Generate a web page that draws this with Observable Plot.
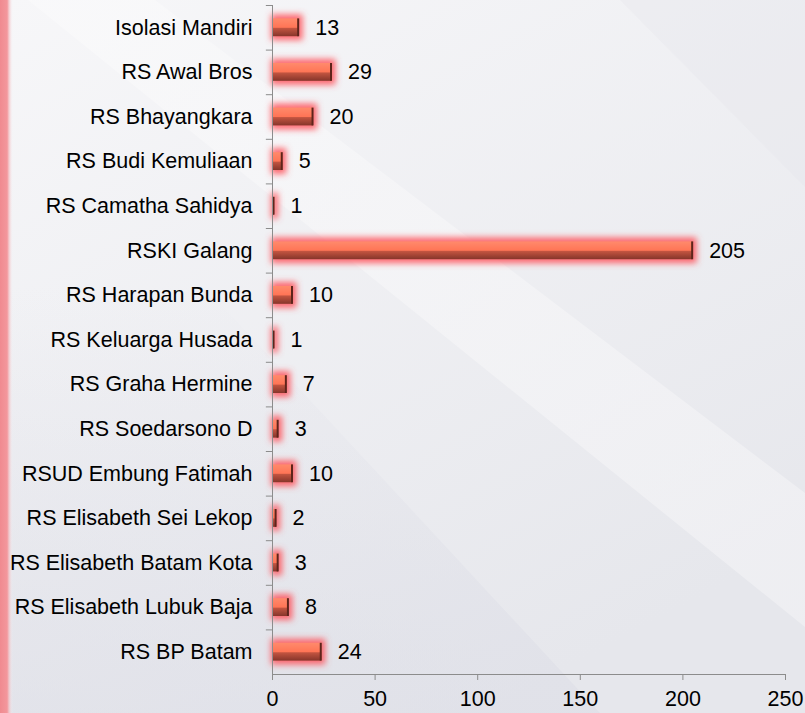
<!DOCTYPE html>
<html><head><meta charset="utf-8">
<script src="https://cdn.jsdelivr.net/npm/d3@7"></script>
<script src="https://cdn.jsdelivr.net/npm/@observablehq/plot@0.6"></script>
<style>
html,body{margin:0;padding:0;background:#ebebef;}
#wrap{position:relative;width:805px;height:713px;overflow:hidden;font-family:'Liberation Sans',Arial,sans-serif;}
#bg{position:absolute;left:0;top:0;}
#chart{position:absolute;left:0;top:0;}
#chart svg text{font-family:'Liberation Sans',Arial,sans-serif;}
</style></head>
<body>
<div id="wrap">
<svg id="bg" width="805" height="713" xmlns="http://www.w3.org/2000/svg">
  <defs>
    <linearGradient id="bgBase" x1="0" y1="0" x2="0.6" y2="1">
      <stop offset="0" stop-color="#f7f7f9"/>
      <stop offset="1" stop-color="#e6e7ec"/>
    </linearGradient>
    <linearGradient id="bandW" x1="0" y1="0" x2="1" y2="1">
      <stop offset="0" stop-color="#fafafb"/>
      <stop offset="1" stop-color="#f1f1f4"/>
    </linearGradient>
    <linearGradient id="bandD" x1="0" y1="0" x2="0" y2="1">
      <stop offset="0.4" stop-color="#dcdde6" stop-opacity="0"/>
      <stop offset="1" stop-color="#dcdde6" stop-opacity="0.55"/>
    </linearGradient>
    <linearGradient id="redStrip" x1="0" y1="0" x2="1" y2="0">
      <stop offset="0" stop-color="#f08a90"/>
      <stop offset="0.55" stop-color="#f3979c"/>
      <stop offset="1" stop-color="#f6f6f8" stop-opacity="0"/>
    </linearGradient>
  </defs>
  <rect width="805" height="713" fill="url(#bgBase)"/>
  <polygon points="28,0 155,0 805,493 805,627" fill="url(#bandW)" opacity="0.7"/>
  <polygon points="620,0 805,0 805,187" fill="#e6e6ea" opacity="0.35"/>
  <polygon points="-61,0 600,713 0,713" fill="url(#bandD)"/>
  <rect x="0" y="0" width="13" height="713" fill="url(#redStrip)"/>
</svg>
<div id="chart"></div>
</div>
<script>
const categories = [
  "Isolasi Mandiri",
  "RS Awal Bros",
  "RS Bhayangkara",
  "RS Budi Kemuliaan",
  "RS Camatha Sahidya",
  "RSKI Galang",
  "RS Harapan Bunda",
  "RS Keluarga Husada",
  "RS Graha Hermine",
  "RS Soedarsono D",
  "RSUD Embung Fatimah",
  "RS Elisabeth Sei Lekop",
  "RS Elisabeth Batam Kota",
  "RS Elisabeth Lubuk Baja",
  "RS BP Batam"
];
const values = [13, 29, 20, 5, 1, 205, 10, 1, 7, 3, 10, 2, 3, 8, 24];
const xTicks = [0, 50, 100, 150, 200, 250];

const data = categories.map((c, i) => ({cat: c, value: values[i]}));
const W = 805, H = 713, mt = 5, mb = 39, ml = 272, mr = 20;
const step = (H - mt - mb) / categories.length;
const axisGray = "#8c8c8c";
const fs = 21.5;

const plot = Plot.plot({
  width: W, height: H,
  marginTop: mt, marginBottom: mb, marginLeft: ml, marginRight: mr,
  style: {background: "transparent", fontFamily: "'Liberation Sans', Arial, sans-serif", fontSize: fs + "px", color: "#000", overflow: "visible"},
  x: {domain: [0, 250]},
  y: {domain: categories, paddingInner: 0.6, paddingOuter: 0.3, round: false, align: 0.5},
  marks: [
    Plot.barX(data, {x: "value", y: "cat", fill: "#ff5058", fillOpacity: 0.85, insetTop: -4, insetBottom: -4, insetRight: -4, insetLeft: -1}),
    Plot.barX(data, {x: "value", y: "cat", fill: "url(#barGrad)"}),
    Plot.tickX(data, {x: "value", y: "cat", stroke: "#5e241b", strokeWidth: 2, dx: -1}),
    Plot.ruleX([0], {stroke: axisGray}),
    Plot.ruleY(categories, {y: d => d, x1: -3, x2: 0, dy: -step / 2, stroke: axisGray}),
    Plot.ruleY([categories[categories.length - 1]], {y: d => d, x1: 0, x2: 250, dy: step / 2, stroke: axisGray}),
    Plot.axisX({ticks: xTicks, tickSize: 6, tickPadding: 10, stroke: axisGray, fill: "#000", fontSize: fs, label: null, tickFormat: d => String(d)}),
    Plot.axisY({tickSize: 0, tickPadding: 20, fill: "#000", fontSize: fs, label: null}),
    Plot.text(data, {x: "value", y: "cat", text: d => String(d.value), dx: 16, textAnchor: "start", fontSize: fs, fill: "#000"})
  ]
});

const svgNode = plot.tagName.toLowerCase() === "svg" ? plot : plot.querySelector("svg");
const svg = d3.select(svgNode);
const defs = svg.insert("defs", ":first-child");
const grad = defs.append("linearGradient").attr("id", "barGrad")
  .attr("x1", 0).attr("y1", 0).attr("x2", 0).attr("y2", 1);
[[0, "#ff8a6c"], [0.5, "#ff7556"], [0.56, "#c25440"], [1, "#86352a"]].forEach(([o, c]) =>
  grad.append("stop").attr("offset", o).attr("stop-color", c));
const filt = defs.append("filter").attr("id", "glow")
  .attr("filterUnits", "userSpaceOnUse").attr("x", 0).attr("y", 0).attr("width", W).attr("height", H);
filt.append("feGaussianBlur").attr("stdDeviation", 3.2);
svg.selectAll("g[aria-label='bar']").filter((d, i) => i === 0).attr("filter", "url(#glow)");

document.getElementById("chart").appendChild(plot);
</script>
</body></html>
